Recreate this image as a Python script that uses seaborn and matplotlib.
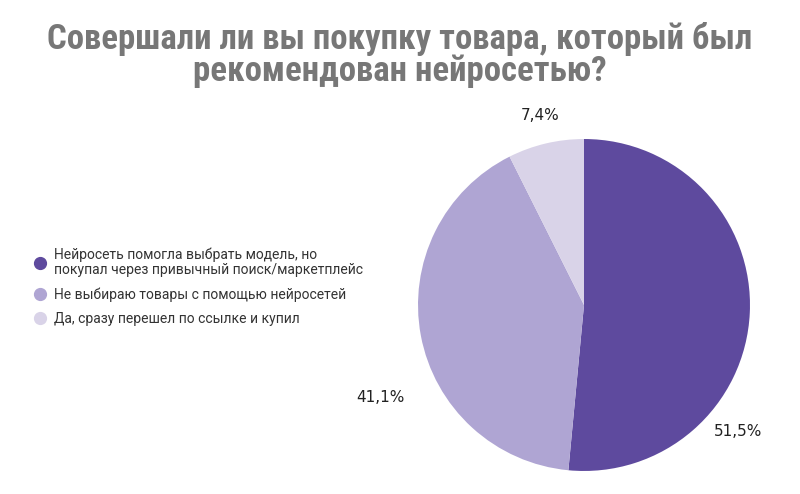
import matplotlib
matplotlib.use("Agg")
import matplotlib.pyplot as plt
from matplotlib.lines import Line2D
import numpy as np
import seaborn as sns

sns.set_theme(style="white")

# данные
categories = [
    "Нейросеть помогла выбрать модель, но\nпокупал через привычный поиск/маркетплейс",
    "Не выбираю товары с помощью нейросетей",
    "Да, сразу перешел по ссылке и купил",
]
values = [51.5, 41.1, 7.4]
value_labels = ["51,5%", "41,1%", "7,4%"]
colors = ["#5E4A9E", "#AFA5D3", "#D9D3E8"]

title = "Совершали ли вы покупку товара, который был\nрекомендован нейросетью?"

# положение подписей (угол в градусах, радиус)
label_angles = [-39.5, 204.5, 103.0]
label_radii = [1.20, 1.35, 1.17]

fig = plt.figure(figsize=(8, 4.94), dpi=100)
fig.patch.set_facecolor("white")

ax = fig.add_axes([0.5225, 0.0466, 0.415, 0.672])
wedges, _ = ax.pie(values, colors=colors, startangle=90, counterclock=False,
                   radius=1, wedgeprops=dict(linewidth=0))
ax.set_xlim(-1, 1)
ax.set_ylim(-1, 1)
ax.set_aspect("equal")
ax.axis("off")

for lab, ang, r in zip(value_labels, label_angles, label_radii):
    a = np.deg2rad(ang)
    ax.text(r * np.cos(a), r * np.sin(a), lab, ha="center", va="center",
            fontsize=11, color="#222222", family="DejaVu Sans", clip_on=False)

handles = [Line2D([0], [0], marker="o", linestyle="", markersize=8.5,
                  markerfacecolor=c, markeredgecolor=c) for c in colors]
leg = fig.legend(handles, categories, loc="upper left",
                 bbox_to_anchor=(0.026, 0.524), frameon=False,
                 prop={"family": "Roboto", "size": 10},
                 handletextpad=0.5, labelspacing=0.72, handlelength=1.0)
for t in leg.get_texts():
    t.set_color("#333333")
    t.set_linespacing(1.1)

fig.text(0.5, 0.955, title, ha="center", va="top", fontsize=25,
         fontweight="bold", color="#777777", family="Roboto Condensed",
         linespacing=0.92)

fig.savefig("out.png", dpi=100)
